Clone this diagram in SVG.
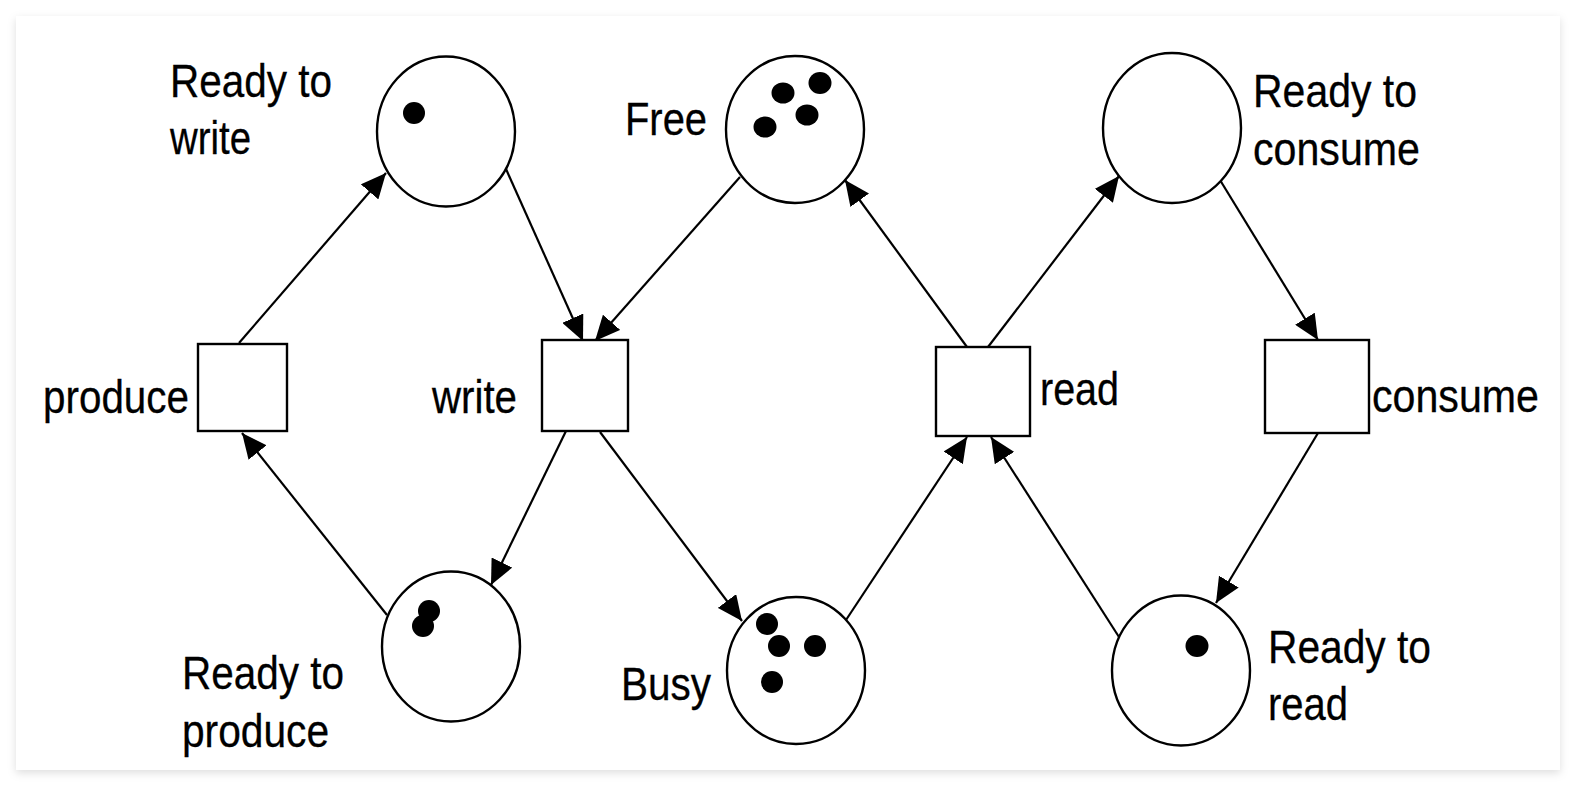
<svg xmlns="http://www.w3.org/2000/svg" width="1576" height="786" viewBox="0 0 1576 786">
<style>
.place{fill:#fff;stroke:#000;stroke-width:2.4}
.trans{fill:#fff;stroke:#000;stroke-width:2.4}
.tok{fill:#000}
.lbl{font-family:"Liberation Sans",Arial,sans-serif;font-size:46px;fill:#000;stroke:#000;stroke-width:0.3}
.arc{stroke:#000;stroke-width:2.2;fill:none;marker-end:url(#ah)}
</style>
<defs>
<marker id="ah" markerUnits="userSpaceOnUse" markerWidth="25" markerHeight="23" refX="25" refY="11.5" orient="auto" viewBox="0 0 25 23">
<path d="M0,0 L25,11.5 L0,23 Z" fill="#000"/>
</marker>
<filter id="sh" x="-5%" y="-5%" width="110%" height="112%">
<feDropShadow dx="0" dy="3" stdDeviation="4" flood-color="#000" flood-opacity="0.13"/>
</filter>
</defs>
<rect x="0" y="0" width="1576" height="786" fill="#fff"/>
<rect x="16" y="16" width="1544" height="754" fill="#fff" filter="url(#sh)"/>

<g id="connectors">
<line class="arc" x1="239" y1="343" x2="386" y2="173"/>
<line class="arc" x1="506" y1="169" x2="583" y2="341"/>
<line class="arc" x1="740" y1="177" x2="595" y2="341"/>
<line class="arc" x1="566" y1="431" x2="491" y2="585"/>
<line class="arc" x1="600" y1="432" x2="742" y2="621"/>
<line class="arc" x1="387" y1="615" x2="242" y2="433"/>
<line class="arc" x1="967" y1="347" x2="845" y2="180"/>
<line class="arc" x1="988" y1="347" x2="1119" y2="176"/>
<line class="arc" x1="846" y1="620" x2="967" y2="437"/>
<line class="arc" x1="1119" y1="637" x2="991" y2="437"/>
<line class="arc" x1="1220" y1="180" x2="1318" y2="340"/>
<line class="arc" x1="1318" y1="433" x2="1216" y2="603"/>
</g>

<g id="ready_to_write">
<ellipse class="place" cx="446" cy="131.5" rx="69" ry="75"/>
<ellipse class="tok" cx="414" cy="113" rx="11" ry="11"/>
<text class="lbl" x="170" y="97" textLength="162" lengthAdjust="spacingAndGlyphs">Ready to</text>
<text class="lbl" x="170" y="154" textLength="81" lengthAdjust="spacingAndGlyphs">write</text>
</g>

<g id="free">
<ellipse class="place" cx="795" cy="129.5" rx="69" ry="73.5"/>
<ellipse class="tok" cx="783" cy="93" rx="11.5" ry="10.5"/>
<ellipse class="tok" cx="820" cy="83" rx="11.5" ry="11"/>
<ellipse class="tok" cx="807" cy="115" rx="11.5" ry="10.5"/>
<ellipse class="tok" cx="765" cy="127" rx="11.5" ry="10.5"/>
<text class="lbl" x="625" y="135" textLength="82" lengthAdjust="spacingAndGlyphs">Free</text>
</g>

<g id="ready_to_consume">
<ellipse class="place" cx="1172" cy="128" rx="69" ry="75"/>
<text class="lbl" x="1253" y="107" textLength="164" lengthAdjust="spacingAndGlyphs">Ready to</text>
<text class="lbl" x="1253" y="165" textLength="167" lengthAdjust="spacingAndGlyphs">consume</text>
</g>

<g id="produce">
<rect class="trans" x="198" y="344" width="89" height="87"/>
<text class="lbl" x="43" y="413" textLength="146" lengthAdjust="spacingAndGlyphs">produce</text>
</g>

<g id="write">
<rect class="trans" x="542" y="340" width="86" height="91"/>
<text class="lbl" x="432" y="413" textLength="85" lengthAdjust="spacingAndGlyphs">write</text>
</g>

<g id="read">
<rect class="trans" x="936" y="347" width="94" height="89"/>
<text class="lbl" x="1040" y="405" textLength="79" lengthAdjust="spacingAndGlyphs">read</text>
</g>

<g id="consume">
<rect class="trans" x="1265" y="340" width="104" height="93"/>
<text class="lbl" x="1372" y="412" textLength="167" lengthAdjust="spacingAndGlyphs">consume</text>
</g>

<g id="ready_to_produce">
<ellipse class="place" cx="451" cy="646.5" rx="69" ry="75"/>
<ellipse class="tok" cx="429" cy="611" rx="11" ry="11"/>
<ellipse class="tok" cx="423" cy="626" rx="11" ry="11"/>
<text class="lbl" x="182" y="689" textLength="162" lengthAdjust="spacingAndGlyphs">Ready to</text>
<text class="lbl" x="182" y="747" textLength="147" lengthAdjust="spacingAndGlyphs">produce</text>
</g>

<g id="busy">
<ellipse class="place" cx="796" cy="670.5" rx="69" ry="73.5"/>
<ellipse class="tok" cx="767" cy="624" rx="11" ry="11"/>
<ellipse class="tok" cx="779" cy="646" rx="11" ry="11"/>
<ellipse class="tok" cx="815" cy="646" rx="11" ry="11"/>
<ellipse class="tok" cx="772" cy="682" rx="11" ry="11"/>
<text class="lbl" x="621" y="700" textLength="90" lengthAdjust="spacingAndGlyphs">Busy</text>
</g>

<g id="ready_to_read">
<ellipse class="place" cx="1181" cy="670.5" rx="69" ry="75"/>
<ellipse class="tok" cx="1197" cy="646" rx="11.5" ry="11"/>
<text class="lbl" x="1268" y="663" textLength="163" lengthAdjust="spacingAndGlyphs">Ready to</text>
<text class="lbl" x="1268" y="720" textLength="80" lengthAdjust="spacingAndGlyphs">read</text>
</g>
</svg>
